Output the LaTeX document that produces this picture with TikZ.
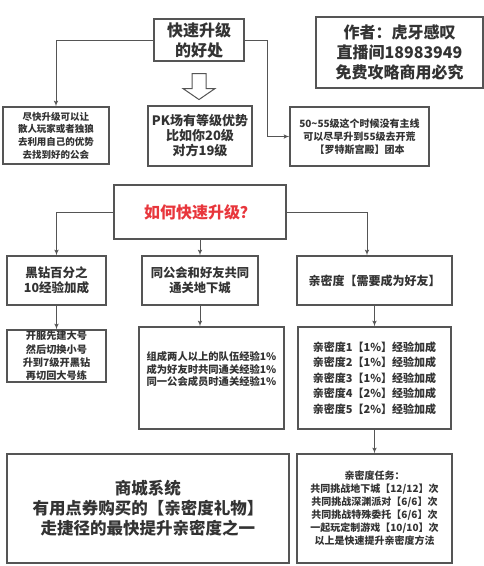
\documentclass[tikz,border=0pt]{standalone}
\usepackage{fontspec}
\setmainfont{Noto Sans CJK SC}
\usepackage{tikz}
\usetikzlibrary{shapes,arrows,calc}
\definecolor{ink}{HTML}{333333}
\definecolor{edge}{HTML}{555555}
\definecolor{alert}{HTML}{E8363C}
\newcommand{\fs}[2]{\fontsize{#1}{#2}\selectfont\bfseries}
\tikzstyle{line} = [draw=edge, line width=1pt, -latex']
\tikzstyle{block} = [draw=edge, line width=1.1pt, rectangle, text centered, align=center, inner sep=0pt, text=ink]

\begin{document}
\begin{tikzpicture}[x=1pt, y=-1pt]
        \useasboundingbox (0,0) rectangle (484,566);
        % top part
        \node[block, minimum width=90, minimum height=42, font=\fs{16}{20}] (benefit) at (199,40) {快速升级\\的好处};
        \node[block, minimum width=167, minimum height=71, font=\fs{16}{20}] (author) at (399.5,52.5) {作者：虎牙感叹\\直播间18983949\\免费攻略商用必究};
        \node[block, minimum width=106, minimum height=57, font=\fs{9.5}{12.7}] (guild) at (56,135.5) {尽快升级可以让\\散人玩家或者独狼\\去利用自己的优势\\去找到好的公会};
        \node[block, minimum width=104, minimum height=60, font=\fs{13}{15}] (pk) at (200,136) {PK场有等级优势\\比如你20级\\对方19级};
        \node[block, minimum width=139, minimum height=59, font=\fs{10}{13}] (raid) at (359.5,136.5) {50\textasciitilde55级这个时候没有主线\\可以尽早升到55级去开荒\\【罗特斯宫殿】团本};
        \coordinate (turn) at (267,136.5);
        \path[line] (benefit.west) -| (guild.north);
        \path[line] (benefit.east) -| (turn) -- (raid.west);
        \draw[edge, line width=1pt, fill=white] ($(benefit.south)+(-7,12)$) -- ++(14,0) -- ++(0,15) -- ++(9,0)
            -- ++(-16,11) -- ++(-16,-11) -- ++(9,0) -- cycle;
        % how to level up
        \node[block, minimum width=172, minimum height=54, font=\fs{16}{20}, text=alert] (how) at (200,212) {如何快速升级？};
        \node[block, minimum width=99, minimum height=49, font=\fs{12.5}{15}] (diamond) at (56.5,280.5) {黑钻百分之\\10经验加成};
        \node[block, minimum width=116, minimum height=49, font=\fs{12.3}{15}] (dungeon) at (200,280.5) {同公会和好友共同\\通关地下城};
        \node[block, minimum width=155, minimum height=49, font=\fs{12}{15}] (intimacy) at (374.5,280.5) {亲密度【需要成为好友】};
        \path[line] (how.west) -| (diamond.north);
        \path[line] (how.south) -- (dungeon.north);
        \path[line] (how.east) -| ([xshift=-7.5]intimacy.north);
        \node[block, minimum width=99, minimum height=52, font=\fs{10.2}{13.3}] (alt) at (56.5,356) {开服先建大号\\然后切换小号\\升到7级开黑钻\\再切回大号练};
        \node[block, minimum width=145, minimum height=102, font=\fs{10.3}{12.5}] (team) at (211.5,378) {组成两人以上的队伍经验1\%\\成为好友时共同通关经验1\%\\同一公会成员时通关经验1\%\\[6pt]};
        \node[block, minimum width=153, minimum height=102, font=\fs{11}{15.5}] (levels) at (374.5,378) {亲密度1【1\%】经验加成\\亲密度2【1\%】经验加成\\亲密度3【1\%】经验加成\\亲密度4【2\%】经验加成\\亲密度5【2\%】经验加成};
        \path[line] (diamond.south) -- (alt.north);
        \path[line] (dungeon.south) -- (dungeon.south |- team.north);
        \path[line] (intimacy.south) -- (levels.north);
        % bottom row
        \node[block, minimum width=282, minimum height=109, font=\fs{16.5}{20}] (shop) at (148,508.5) {商城系统\\有用点券购买的【亲密度礼物】\\走捷径的最快提升亲密度之一};
        \node[block, minimum width=155, minimum height=109, font=\fs{10}{13}] (task) at (374.5,508.5) {亲密度任务：\\共同挑战地下城【12/12】次\\共同挑战深渊派对【6/6】次\\共同挑战特殊委托【6/6】次\\一起玩定制游戏【10/10】次\\以上是快速提升亲密度方法};
        \path[line] (levels.south) -- (task.north);
    \end{tikzpicture}
\end{document}
